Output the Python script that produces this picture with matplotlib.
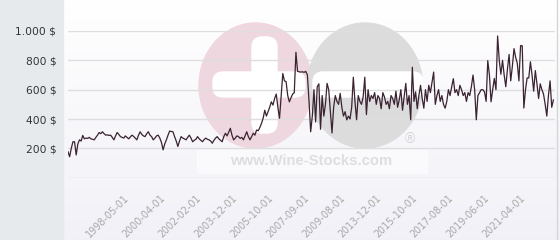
import numpy as np
import matplotlib
matplotlib.use("Agg")
import matplotlib.pyplot as plt
from matplotlib.patches import Rectangle, Ellipse, FancyBboxPatch

# monthly prices (USD)
price = [
    177, 143, 200, 245, 245, 155, 230, 258, 250, 288,
    265, 270, 268, 275, 265, 262, 258, 275, 290, 308,
    300, 313, 300, 290, 292, 288, 290, 275, 258, 285,
    308, 295, 280, 275, 270, 285, 275, 265, 278, 290,
    282, 270, 258, 290, 313, 295, 285, 280, 300, 313,
    290, 280, 258, 270, 285, 290, 270, 240, 190, 230,
    258, 290, 318, 315, 313, 280, 250, 213, 250, 280,
    270, 265, 258, 275, 290, 270, 245, 255, 262, 280,
    265, 255, 245, 260, 270, 262, 258, 250, 235, 255,
    270, 280, 265, 255, 245, 280, 303, 285, 310, 337,
    290, 258, 270, 285, 280, 268, 275, 258, 285, 313,
    280, 258, 280, 303, 290, 325, 320, 342, 370, 405,
    460, 420, 450, 480, 517, 495, 540, 570, 480, 405,
    560, 710, 660, 655, 560, 517, 545, 570, 580, 855,
    725, 722, 720, 722, 718, 725, 700, 520, 313,
    420, 600, 380, 620, 640, 330, 560, 420, 500, 643,
    600, 450, 305, 480, 560, 520,
    500, 575, 480, 420, 450, 394, 420, 400, 480, 685, 520,
    395, 560, 520, 500, 550, 685, 430, 600, 520, 560, 540,
    580, 500, 560, 540, 470, 580, 550, 500, 520, 470, 560,
    540, 500, 590, 480, 530, 600, 460, 550, 643, 500, 560,
    395, 753, 520, 585, 470, 560, 630, 540, 474, 600, 520,
    630, 580, 650, 720, 500, 560, 600, 520, 560, 500, 474,
    520, 600, 560, 620, 675, 580, 600, 560, 630, 600, 560,
    580, 520, 580, 560, 620, 700, 600, 395, 560, 580, 600,
    600, 585, 520, 798, 700, 517, 600, 677, 600, 966, 800,
    705, 800, 700, 620, 740, 840, 660, 760, 880, 820, 780,
    660, 900, 900, 475, 600, 680, 680, 790, 700, 590, 730,
    640, 540, 640, 600, 570, 500, 420, 560, 660, 480, 530,
]

tick_dates = ["1998-05-01", "2000-04-01", "2002-02-01", "2003-12-01",
              "2005-10-01", "2007-09-01", "2009-08-01", "2013-12-01",
              "2015-10-01", "2017-08-01", "2019-06-01", "2021-04-01"]
tick_idx = [34, 56, 78, 100, 122, 144, 166, 188, 210, 232, 254, 276]

y_ticks = [200, 400, 600, 800, 1000]
y_labels = ["200 $", "400 $", "600 $", "800 $", "1.000 $"]

W, H = 560, 240
fig = plt.figure(figsize=(W / 100, H / 100), dpi=100)

# background layer in pixel coordinates
bg = fig.add_axes([0, 0, 1, 1], zorder=0)
bg.set_xlim(0, W)
bg.set_ylim(H, 0)
bg.axis("off")

grad = np.linspace(0, 1, 100).reshape(-1, 1)
top = np.array([1.0, 1.0, 1.0])
bot = np.array([0.945, 0.945, 0.97])
img = top + grad[..., None] * (bot - top)
bg.imshow(img, extent=(63, W, H, 0), aspect="auto", zorder=0)
bg.add_patch(Rectangle((0, 0), 63, H, color="#e6eaed", zorder=1))
bg.plot([557, 557], [0, H], color="#d6d6d6", lw=1, zorder=1)

# watermark
bg.add_patch(Ellipse((255.5, 85.5), 113, 125, color="#eed7de", zorder=2))
bg.add_patch(Ellipse((365, 85.5), 115, 125, color="#dcdcdc", zorder=2))
for x0, y0, w, h in [(252, 37, 25, 96), (213, 72, 92, 25), (313, 72, 110, 25)]:
    bg.add_patch(FancyBboxPatch((x0, y0), w, h, boxstyle="round,pad=0,rounding_size=10",
                                color="white", zorder=3))
bg.add_patch(Rectangle((197, 150), 230, 23, color="white", alpha=0.5, zorder=3))
bg.text(311.5, 161, "www.Wine-Stocks.com", family="Liberation Sans", weight="bold",
        fontsize=10.7, color="#dedede", ha="center", va="center", zorder=4)
bg.text(410, 139, "®", family="Liberation Sans", fontsize=10,
        color="#d4d4d4", ha="center", va="center", zorder=4)

# main chart
ax = fig.add_axes([68 / W, (H - 177.7) / H, 487 / W, 146.7 / H], zorder=1)
ax.patch.set_alpha(0)
ax.plot(range(len(price)), price, color="#3a2230", lw=0.9, zorder=3)

ax.set_xlim(0, len(price))
ax.set_ylim(0, 1000)
ax.set_yticks([0] + y_ticks)
ax.set_yticklabels([""] + y_labels)
ax.grid(axis="y", color="#dedede", lw=1)
ax.set_xticks(tick_idx)
ax.set_xticklabels(tick_dates, rotation=45, ha="right", rotation_mode="anchor")
ax.tick_params(axis="x", length=0, pad=11, labelsize=6.9, labelcolor="#a8a8a8")
ax.tick_params(axis="y", length=0, pad=8.5, labelsize=7.7, labelcolor="#333333")
for s in ax.spines.values():
    s.set_visible(False)

fig.savefig("out.png", dpi=100)
